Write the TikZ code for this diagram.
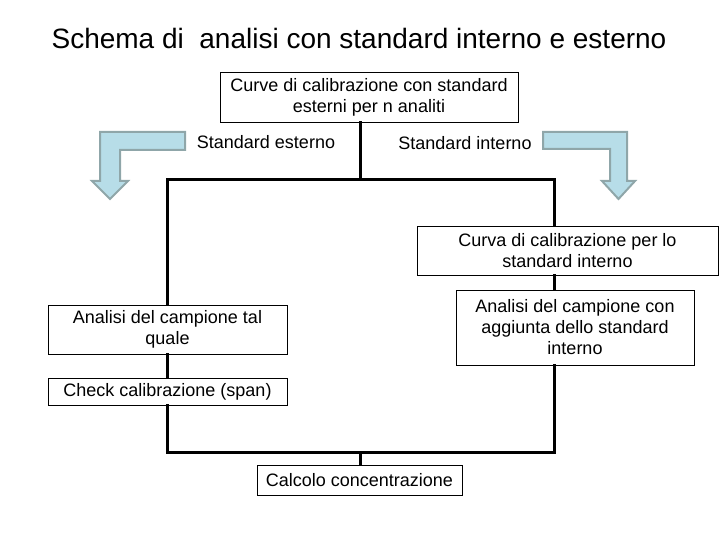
\documentclass[tikz,border=0pt]{standalone}
\usepackage{fontspec}
\setmainfont{Liberation Sans}
\definecolor{arrfill}{HTML}{B7DDE8}
\definecolor{arrline}{HTML}{8FA6A9}
\tikzset{
  box/.style={draw=black, line width=0.8pt, fill=white, align=center, inner sep=0pt,
    font=\fontsize{18}{21}\selectfont},
  conn/.style={line width=3pt, line cap=rect},
  lbl/.style={font=\fontsize{18}{21}\selectfont, inner sep=0pt},
  bentarrow/.style={fill=arrfill, draw=arrline, line width=2pt, line join=miter}
}
\begin{document}
\begin{tikzpicture}[x=1pt,y=-1pt]
\useasboundingbox (0,0) rectangle (720,540);
\node[font=\fontsize{28}{32}\selectfont, inner sep=0pt] (title) at (359,38) {Schema di\ \ analisi con standard interno e esterno};

\node[box, minimum width=298, minimum height=50] (top) at (369,97) {Curve di calibrazione con standard\\esterni per n analiti};
\node[lbl] (lext) at (266,142) {Standard esterno};
\node[lbl] (lint) at (465,143) {Standard interno};

\node[box, minimum width=301, minimum height=49] (curva) at (567.5,250.5) {Curva di calibrazione per lo\\standard interno};
\node[box, minimum width=238, minimum height=75] (acon) at (575,327.5) {Analisi del campione con\\aggiunta dello standard\\interno};
\node[box, minimum width=239, minimum height=49] (atal) at (167.5,329.5) {Analisi del campione tal\\quale};
\node[box, minimum width=239, minimum height=27] (check) at (167.5,391.5) {Check calibrazione (span)};
\node[box, minimum width=205, minimum height=30] (calc) at (359.5,480) {Calcolo concentrazione};

\coordinate (jt) at (360,180);
\coordinate (jl) at (167,180);
\coordinate (jr) at (554,180);
\coordinate (bl) at (167,452);
\coordinate (br) at (554,452);
\coordinate (jb) at (360,452);

\draw[conn] (top.south -| jt) -- (jt);
\draw[conn] (atal.north -| jl) -- (jl) -- (jr) -- (curva.north -| jr);
\draw[conn] (curva.south -| jr) -- (acon.north -| jr);
\draw[conn] (atal.south -| jl) -- (check.north -| jl);
\draw[conn] (check.south -| bl) -- (bl) -- (br) -- (acon.south -| br);
\draw[conn] (jb) -- (calc.north -| jb);

\draw[bentarrow] (100,132) -- (185,132) -- (185,150) -- (120,150) -- (120,181) -- (128,181) -- (110,199) -- (92,181) -- (100,181) -- cycle;
\draw[bentarrow] (543,132) -- (627,132) -- (627,181) -- (635,181) -- (618.5,199) -- (602,181) -- (610,181) -- (610,149) -- (543,149) -- cycle;

\end{tikzpicture}
\end{document}
